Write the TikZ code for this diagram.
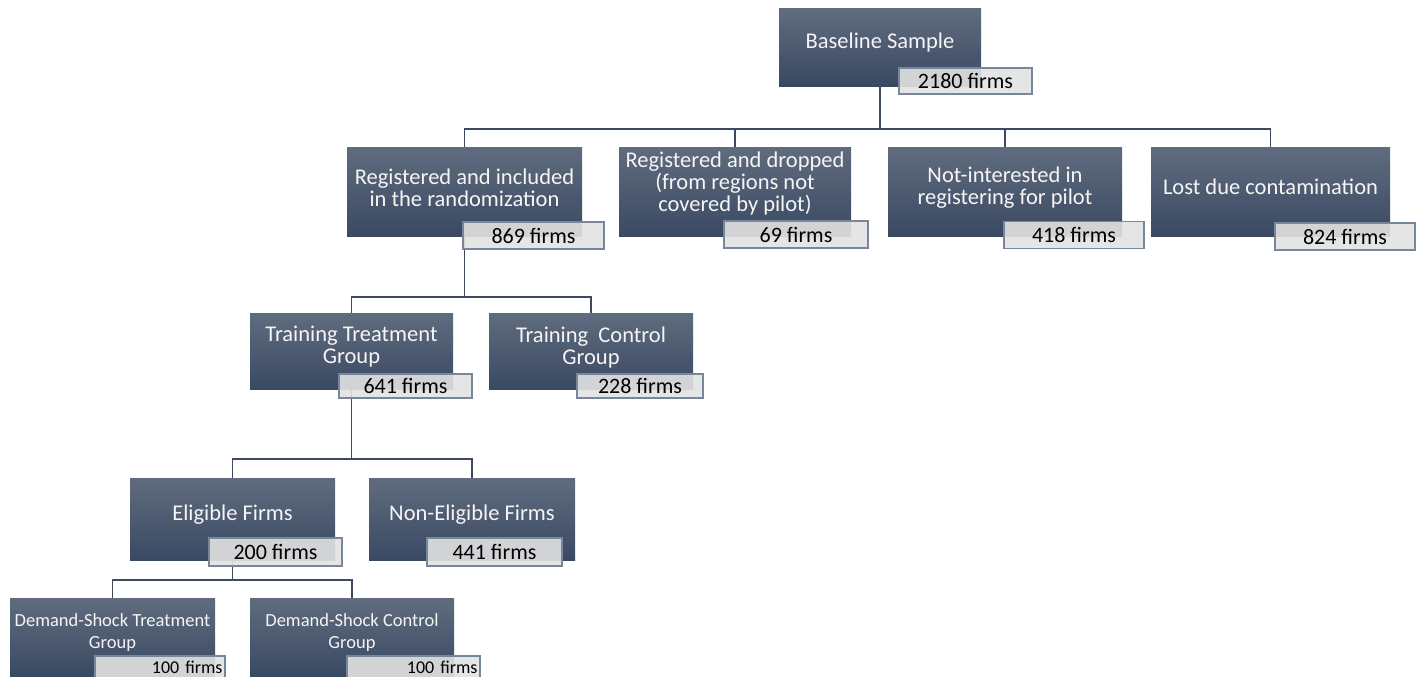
\documentclass[tikz,border=0pt]{standalone}
\usepackage{fontspec}
\setmainfont{Carlito}
\definecolor{boxtop}{RGB}{96,108,126}
\definecolor{boxbot}{RGB}{58,73,99}
\definecolor{lnk}{RGB}{62,74,96}
\definecolor{labfill}{RGB}{226,226,226}
\definecolor{labdraw}{RGB}{120,134,156}
\definecolor{btxt}{RGB}{245,245,245}
\tikzset{
  dbox/.style={rectangle, draw=none, top color=boxtop, bottom color=boxbot, inner sep=0},
  btext/.style={text=btxt, align=center, font=\fontsize{22.5}{22}\selectfont, inner sep=0},
  stext/.style={text=btxt, align=center, font=\fontsize{18.5}{21.7}\selectfont, inner sep=0},
  lab/.style={rectangle, draw=labdraw, line width=1.3, fill=labfill, fill opacity=0.9, text opacity=1, text=black, font=\fontsize{22}{24}\selectfont, inner sep=0},
  slab/.style={lab, font=\fontsize{18}{20}\selectfont, align=right},
  link/.style={draw=lnk, line width=1.3}
}
\begin{document}
\begin{tikzpicture}[x=1pt,y=-1pt]
\useasboundingbox (0,0) rectangle (1416,677);
\clip (0,0) rectangle (1416,677);
% bus coordinates
\coordinate (bus1) at (0,129);
\coordinate (bus2) at (0,297);
\coordinate (bus3) at (0,459);
\coordinate (bus4) at (0,580);
% boxes (shapes)
\node[dbox, minimum width=202, minimum height=77] (bs) at (880,47.5) {};
\node[dbox, minimum width=235, minimum height=89] (c1) at (464.5,191.5) {};
\node[dbox, minimum width=232, minimum height=89] (c2) at (735,191.5) {};
\node[dbox, minimum width=234, minimum height=89] (c3) at (1005,191.5) {};
\node[dbox, minimum width=239, minimum height=89] (c4) at (1270.5,191.5) {};
\node[dbox, minimum width=203, minimum height=76] (t1) at (351.5,351) {};
\node[dbox, minimum width=204, minimum height=76] (t2) at (591,351) {};
\node[dbox, minimum width=205, minimum height=82] (e1) at (232.5,519) {};
\node[dbox, minimum width=206, minimum height=82] (e2) at (472,519) {};
\node[dbox, minimum width=205, minimum height=78] (d1) at (112.5,637) {};
\node[dbox, minimum width=204, minimum height=78] (d2) at (352,637) {};
% connectors
\draw[link] (bs.south) |- (c1.north |- bus1) -- (c1.north);
\draw[link] (bs.south) |- (c2.north |- bus1) -- (c2.north);
\draw[link] (bs.south) |- (c3.north |- bus1) -- (c3.north);
\draw[link] (bs.south) |- (c4.north |- bus1) -- (c4.north);
\draw[link] (c1.south) |- (t1.north |- bus2) -- (t1.north);
\draw[link] (c1.south) |- (t2.north |- bus2) -- (t2.north);
\draw[link] (t1.south) |- (e1.north |- bus3) -- (e1.north);
\draw[link] (t1.south) |- (e2.north |- bus3) -- (e2.north);
\draw[link] (e1.south) |- (d1.north |- bus4) -- (d1.north);
\draw[link] (e1.south) |- (d2.north |- bus4) -- (d2.north);
% box texts
\node[btext] (bsT) at ([yshift=5pt]bs.center) {Baseline Sample};
\node[btext] (c1T) at ([yshift=4pt]c1.center) {Registered and included\\in the randomization};
\node[btext] (c2T) at ([yshift=8pt]c2.center) {Registered and dropped\\(from regions not\\covered by pilot)};
\node[btext] (c3T) at ([yshift=4pt]c3.center) {Not-interested in\\registering for pilot};
\node[btext] (c4T) at ([yshift=4.5pt]c4.center) {Lost due contamination};
\node[btext] (t1T) at ([yshift=4pt]t1.center) {Training Treatment\\Group};
\node[btext] (t2T) at ([yshift=4pt]t2.center) {Training\ \ Control\\Group};
\node[btext] (e1T) at ([yshift=4pt]e1.center) {Eligible Firms};
\node[btext] (e2T) at ([yshift=4pt]e2.center) {Non-Eligible Firms};
\node[stext] (d1T) at ([yshift=4.5pt]d1.center) {Demand-Shock Treatment\\Group};
\node[stext] (d2T) at ([yshift=4.5pt]d2.center) {Demand-Shock Control\\Group};
% labels
\node[lab, minimum width=133, minimum height=26] (l0) at (965.5,81) {2180 firms};
\node[lab, minimum width=141, minimum height=27] (l1) at (533.5,235.5) {869 firms};
\node[lab, minimum width=144, minimum height=27] (l2) at (796,234.5) {69 firms};
\node[lab, minimum width=140, minimum height=27] (l3) at (1074,235) {418 firms};
\node[lab, minimum width=140, minimum height=27] (l4) at (1345,236.5) {824 firms};
\node[lab, minimum width=133, minimum height=24] (l5) at (405.5,386) {641 firms};
\node[lab, minimum width=126, minimum height=24] (l6) at (640,386) {228 firms};
\node[lab, minimum width=133, minimum height=28] (l7) at (275.5,552) {200 firms};
\node[lab, minimum width=135, minimum height=28] (l8) at (494.5,552) {441 firms};
\node[slab, minimum width=130, minimum height=23, text width=125] (l9) at (160,667.5) {100 firms};
\node[slab, minimum width=133, minimum height=23, text width=128] (l10) at (413.5,667.5) {100 firms};
\end{tikzpicture}
\end{document}
